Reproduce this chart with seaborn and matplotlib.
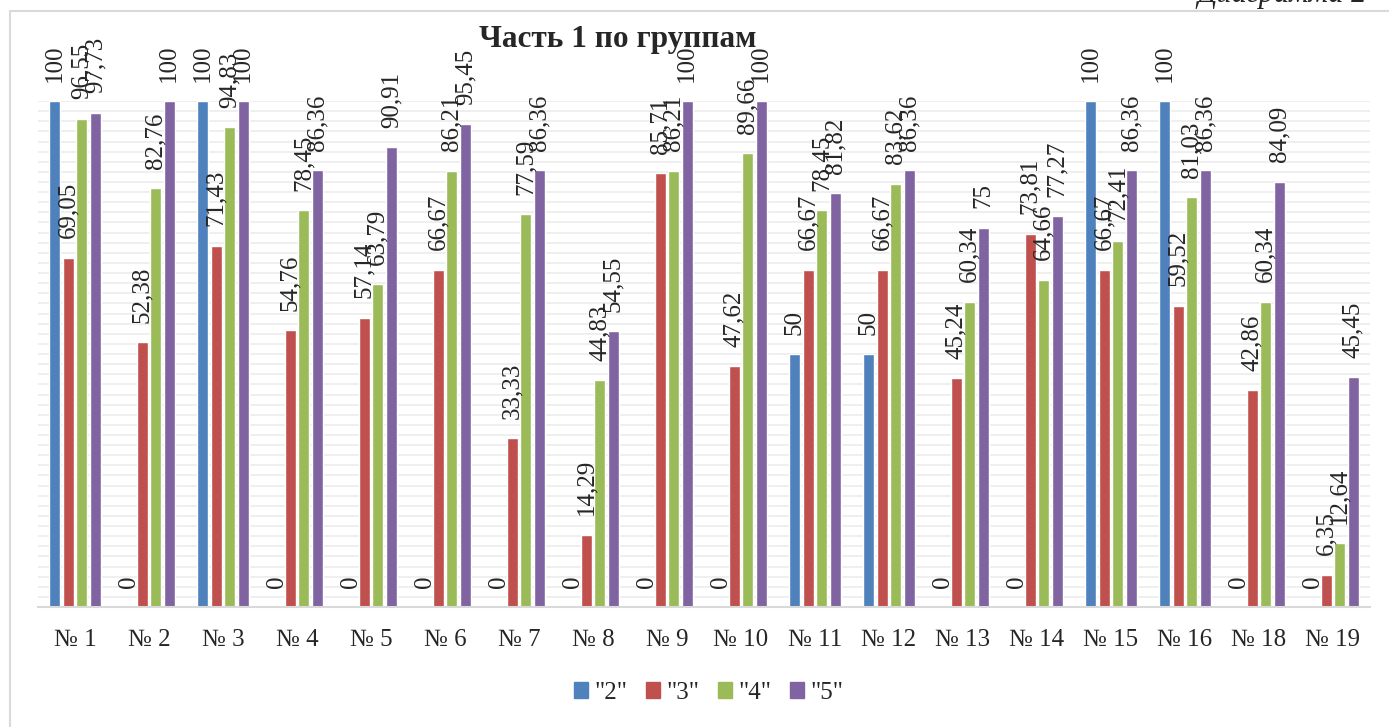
import numpy as np
import pandas as pd
import seaborn as sns
import matplotlib.pyplot as plt
from matplotlib.patches import Rectangle

# groups (no № 17 in the source)
groups = ['№ 1', '№ 2', '№ 3', '№ 4', '№ 5', '№ 6', '№ 7', '№ 8', '№ 9',
          '№ 10', '№ 11', '№ 12', '№ 13', '№ 14', '№ 15', '№ 16', '№ 18', '№ 19']
grade_2 = [100, 0, 100, 0, 0, 0, 0, 0, 0, 0, 50, 50, 0, 0, 100, 100, 0, 0]
grade_3 = [69.05, 52.38, 71.43, 54.76, 57.14, 66.67, 33.33, 14.29, 85.71,
           47.62, 66.67, 66.67, 45.24, 73.81, 66.67, 59.52, 42.86, 6.35]
grade_4 = [96.55, 82.76, 94.83, 78.45, 63.79, 86.21, 77.59, 44.83, 86.21,
           89.66, 78.45, 83.62, 60.34, 64.66, 72.41, 81.03, 60.34, 12.64]
grade_5 = [97.73, 100, 100, 86.36, 90.91, 95.45, 86.36, 54.55, 100,
           100, 81.82, 86.36, 75, 77.27, 86.36, 86.36, 84.09, 45.45]
series_names = ['"2"', '"3"', '"4"', '"5"']
colors = ['#4F81BD', '#C0504D', '#9BBB59', '#8064A2']

series = [grade_2, grade_3, grade_4, grade_5]
df = pd.DataFrame({
    'group': groups * 4,
    'grade': [n for n in series_names for _ in groups],
    'value': [v for s in series for v in s],
})

sns.set_style('white')
plt.rcParams['font.family'] = ['Liberation Serif', 'DejaVu Serif']


def fmt(v):
    return str(int(v)) if v == int(v) else f'{v:.2f}'.replace('.', ',')


fig = plt.figure(figsize=(13.89, 7.27), dpi=100)
ax = fig.add_axes([0.0274, 0.165, 0.9589, 0.696])

sns.barplot(data=df, x='group', y='value', hue='grade', order=groups,
            hue_order=series_names, palette=colors, width=0.73, gap=0.19,
            saturation=1, ax=ax, legend=False)

for cont, vals in zip(ax.containers, series):
    ax.bar_label(cont, labels=[fmt(v) for v in vals], padding=14,
                 rotation=90, fontsize=18, clip_on=False)

ax.set_ylim(0, 100)
ax.set_xlim(-0.5, len(groups) - 0.5)
ax.set_yticks(np.arange(0, 101, 2))
ax.set_yticklabels([])
ax.grid(axis='y', color='#ececec', lw=1.2)
ax.set_axisbelow(True)
ax.tick_params(axis='both', length=0)
ax.tick_params(axis='x', labelsize=18, pad=16)
ax.set_xlabel('')
ax.set_ylabel('')
for s in ['left', 'right', 'top']:
    ax.spines[s].set_visible(False)
ax.spines['bottom'].set_color('#d9d9d9')
ax.spines['bottom'].set_linewidth(1.5)

handles = [Rectangle((0, 0), 1, 1, color=c) for c in colors]
fig.legend(handles, series_names, loc='center', bbox_to_anchor=(709 / 1389, 0.047),
           ncol=4, frameon=False, fontsize=18, handlelength=0.56, handleheight=0.56,
           handletextpad=0.25, columnspacing=0.75)

fig.text(618 / 1389, 1 - 40 / 727, 'Часть 1 по группам', ha='center', va='center',
         fontsize=22.5, fontweight='bold')
fig.text(0.984, 0.997, 'Диаграмма 2', ha='right', va='baseline',
         fontsize=22, style='italic')

# chart frame
fig.add_artist(Rectangle((9.5 / 1389, -0.1), 1.2, 1.1 - 11 / 727, transform=fig.transFigure,
                         fill=False, edgecolor='#d9d9d9', lw=1.5, clip_on=False))

fig.savefig('out.png', dpi=100)
